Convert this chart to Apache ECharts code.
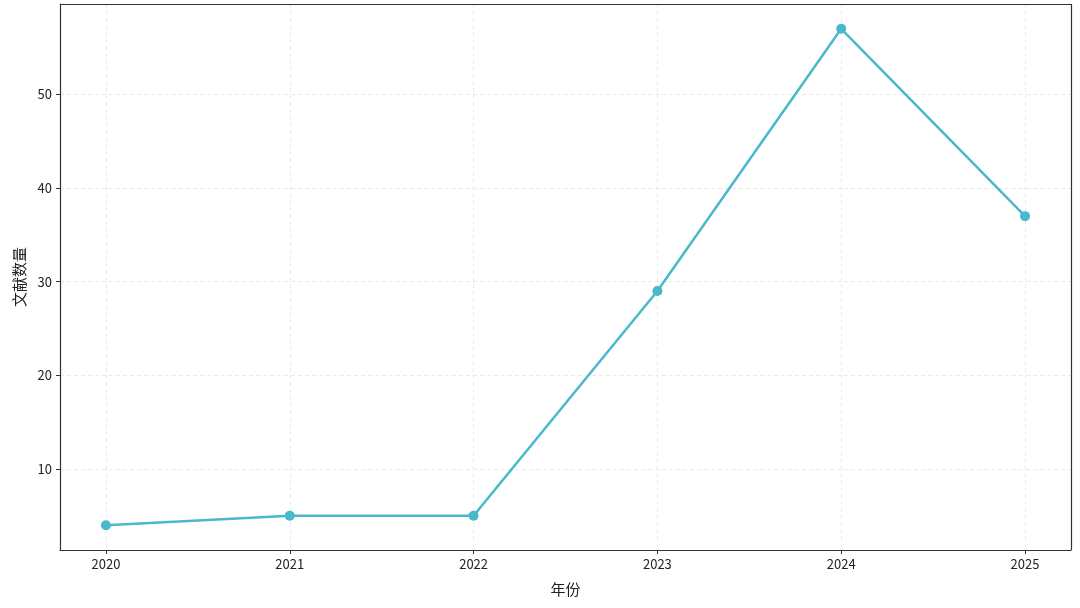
<!DOCTYPE html>
<html>
<head>
<meta charset="utf-8">
<script src="https://cdn.jsdelivr.net/npm/echarts@6/dist/echarts.min.js"></script>
<style>
  html, body { margin: 0; padding: 0; background: #fff; }
  #chart { width: 1080px; height: 608px; }
</style>
</head>
<body>
<div id="chart"></div>
<script>
// data
const years = [2020, 2021, 2022, 2023, 2024, 2025]
const counts = [4, 5, 5, 29, 57, 37]
const yTicks = [10, 20, 30, 40, 50]

const font = '"Noto Sans CJK SC", "DejaVu Sans", sans-serif'
const lineColor = '#4ab8cc'

const chart = echarts.init(document.getElementById('chart'))

const gridLine = {
  show: true,
  lineStyle: { color: '#e3e3e3', type: [4, 3], width: 0.8 }
}

chart.setOption({
  animation: false,
  grid: { left: 60, top: 4, right: 9, bottom: 58 },
  xAxis: {
    type: 'value',
    min: 2019.75,
    max: 2025.25,
    name: '年份',
    nameLocation: 'middle',
    nameGap: 32,
    nameTextStyle: { fontFamily: font, fontSize: 15, color: '#222' },
    axisLine: { onZero: false, lineStyle: { color: '#333', width: 1.2 } },
    axisTick: { show: true, length: 4, customValues: years, lineStyle: { color: '#333', width: 1 } },
    axisLabel: {
      customValues: years,
      formatter: v => String(v),
      fontFamily: font, fontSize: 13, color: '#222', margin: 8
    },
    splitLine: gridLine
  },
  yAxis: {
    type: 'value',
    min: 1.35,
    max: 59.65,
    name: '文献数量',
    nameLocation: 'middle',
    nameGap: 33,
    nameRotate: 90,
    nameTextStyle: { fontFamily: font, fontSize: 15, color: '#222' },
    axisLine: { show: true, onZero: false, lineStyle: { color: '#333', width: 1.2 } },
    axisTick: { show: true, length: 4, customValues: yTicks, lineStyle: { color: '#333', width: 1 } },
    axisLabel: { customValues: yTicks, fontFamily: font, fontSize: 13, color: '#222', margin: 8 },
    splitLine: gridLine
  },
  series: [
    {
      type: 'line',
      data: years.map((y, i) => [y, counts[i]]),
      symbol: 'circle',
      symbolSize: 10,
      itemStyle: { color: lineColor },
      lineStyle: { color: lineColor, width: 2.5 }
    },
    {
      // top and right frame
      type: 'line',
      data: [],
      markLine: {
        silent: true,
        symbol: 'none',
        label: { show: false },
        lineStyle: { color: '#333', width: 1.2, type: 'solid' },
        data: [{ yAxis: 59.65 }, { xAxis: 2025.25 }]
      }
    }
  ]
})
</script>
</body>
</html>
